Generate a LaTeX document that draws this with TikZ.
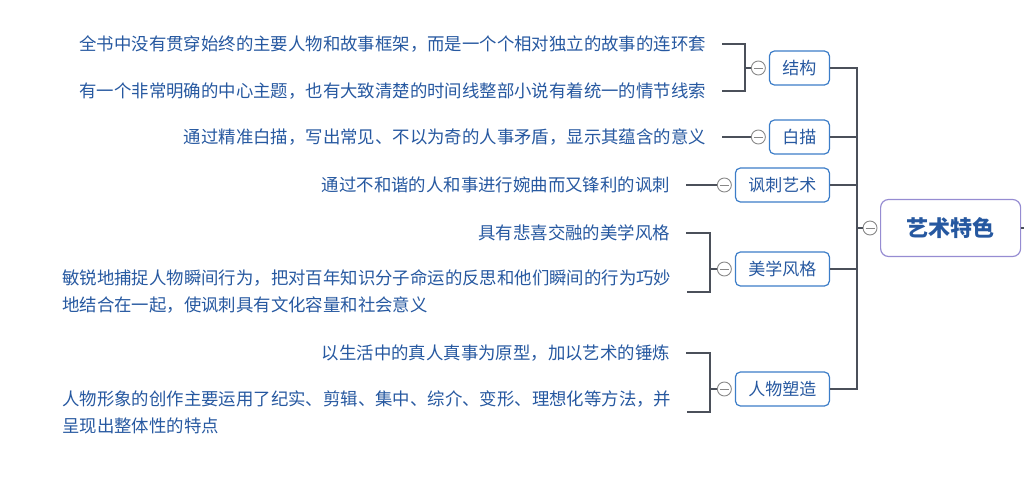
\documentclass[tikz,border=0pt]{standalone}
\usepackage{fontspec}
\setmainfont{Noto Sans CJK SC}
\usepackage{tikz}
\usetikzlibrary{positioning}
\definecolor{txtblue}{RGB}{38,88,160}
\definecolor{boxblue}{RGB}{60,125,200}
\definecolor{rootpurple}{RGB}{150,140,210}
\definecolor{linegray}{RGB}{75,80,90}
\definecolor{knobgray}{RGB}{135,135,135}

\begin{document}
\begin{tikzpicture}[x=1pt,y=-1pt,
  branch/.style={draw=boxblue, rounded corners=5pt, fill=white, line width=1.2pt, text=txtblue,
    font=\fontsize{17}{20}\selectfont, inner xsep=13pt, inner ysep=0pt, minimum height=34pt},
  leaf/.style={text=txtblue, font=\fontsize{17.4}{27}\selectfont, inner sep=0pt, align=left},
  knob/.style={circle, draw=knobgray, fill=white, line width=0.9pt, minimum size=14pt, inner sep=0pt,
    path picture={\draw[knobgray, line width=0.9pt] ([xshift=-4.5pt]path picture bounding box.center) -- ([xshift=4.5pt]path picture bounding box.center);}},
  wire/.style={draw=linegray, line width=2pt}]
\useasboundingbox (0,0) rectangle (1024,485);

% Root
\node[draw=rootpurple, rounded corners=8pt, fill=white, line width=1.2pt, text=txtblue,
  font=\fontsize{22}{24}\selectfont\bfseries, minimum width=140pt, minimum height=57pt,
  anchor=west] (root) at (880,228) {艺术特色};
\node[knob] (rk) at (870,228) {};
\coordinate (tk) at (857,228);

% Branches
\node[branch, anchor=east] (sA) at (830,68) {结构};
\node[branch, anchor=east] (sB) at (830,137) {白描};
\node[branch, anchor=east] (sC) at (830,185) {讽刺艺术};
\node[branch, anchor=east] (sD) at (830,269) {美学风格};
\node[branch, anchor=east] (sE) at (830,389) {人物塑造};

\node[knob, left=3pt of sA] (kA) {};
\node[knob, left=3pt of sB] (kB) {};
\node[knob, left=3pt of sC] (kC) {};
\node[knob, left=3pt of sD] (kD) {};
\node[knob, left=3pt of sE] (kE) {};

% Leaves
\node[leaf, anchor=east] (a1) at (706,44) {全书中没有贯穿始终的主要人物和故事框架，而是一个个相对独立的故事的连环套};
\node[leaf, anchor=east] (a2) at (706,91) {有一个非常明确的中心主题，也有大致清楚的时间线整部小说有着统一的情节线索};
\node[leaf, anchor=east] (b1) at (706,137) {通过精准白描，写出常见、不以为奇的人事矛盾，显示其蕴含的意义};
\node[leaf, anchor=east] (c1) at (670,185) {通过不和谐的人和事进行婉曲而又锋利的讽刺};
\node[leaf, anchor=east] (d1) at (670,233) {具有悲喜交融的美学风格};
\node[leaf, anchor=west] (d2) at (62,292) {敏锐地捕捉人物瞬间行为，把对百年知识分子命运的反思和他们瞬间的行为巧妙\\地结合在一起，使讽刺具有文化容量和社会意义};
\node[leaf, anchor=east] (e1) at (670,353) {以生活中的真人真事为原型，加以艺术的锤炼};
\node[leaf, anchor=west] (e2) at (62,412) {人物形象的创作主要运用了纪实、剪辑、集中、综介、变形、理想化等方法，并\\呈现出整体性的特点};

% Trunk
\draw[wire] (sA.east) -- (sA.east -| tk) |- (sE.east);
\draw[wire] (sB.east) -- (sB.east -| tk);
\draw[wire] (sC.east) -- (sC.east -| tk);
\draw[wire] (sD.east) -- (sD.east -| tk);
\draw[wire] (tk) -- (rk);
\draw[wire] (root.east) -- ++(10,0);

% Brackets
\coordinate (jA) at (745,68);
\coordinate (jD) at (710,269);
\coordinate (jE) at (710,389);
\draw[wire] ([xshift=16pt]a1.east) -| (jA) |- ([xshift=16pt]a2.east);
\draw[wire] (jA) -- (kA);
\draw[wire] ([xshift=16pt]b1.east) -- (kB);
\draw[wire] ([xshift=16pt]c1.east) -- (kC);
\draw[wire] ([xshift=16pt]d1.east) -| (jD) |- ([xshift=16pt]d2.east);
\draw[wire] (jD) -- (kD);
\draw[wire] ([xshift=16pt]e1.east) -| (jE) |- ([xshift=16pt]e2.east);
\draw[wire] (jE) -- (kE);

\end{tikzpicture}
\end{document}
